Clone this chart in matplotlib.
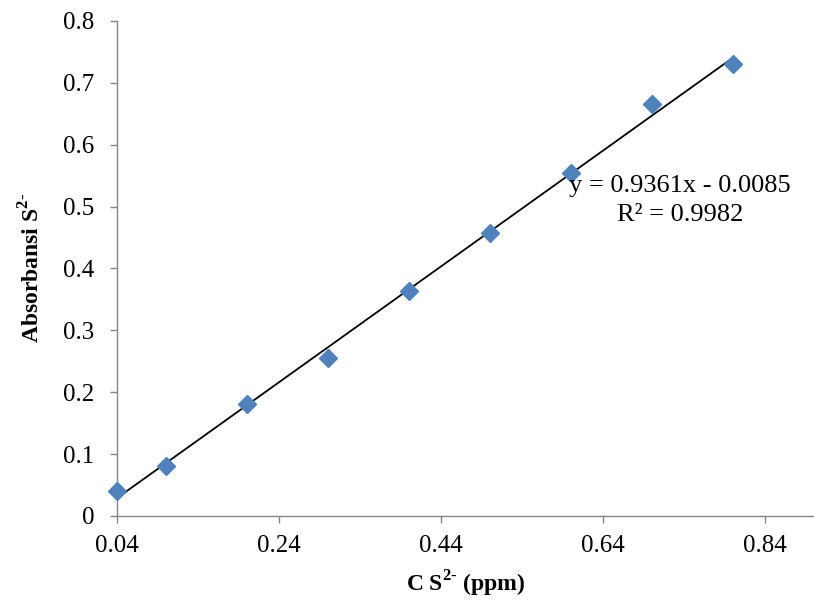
import matplotlib.pyplot as plt
import numpy as np

# data
conc = [0.04, 0.1, 0.2, 0.3, 0.4, 0.5, 0.6, 0.7, 0.8]
absorb = [0.041, 0.081, 0.181, 0.256, 0.364, 0.457, 0.554, 0.666, 0.731]
slope = 0.9361
intercept = -0.0085
eq_text = 'y = 0.9361x - 0.0085'
r2_text = 'R² = 0.9982'
x_ticks = [0.04, 0.24, 0.44, 0.64, 0.84]
y_ticks = [0, 0.1, 0.2, 0.3, 0.4, 0.5, 0.6, 0.7, 0.8]


def main():
    plt.rcParams['font.family'] = ['Liberation Serif', 'DejaVu Serif']
    plt.rcParams['mathtext.fontset'] = 'custom'
    plt.rcParams['mathtext.rm'] = 'Liberation Serif'
    plt.rcParams['mathtext.bf'] = 'Liberation Serif:bold'

    fig = plt.figure(figsize=(8.14, 6.03), dpi=100)
    ax = fig.add_axes([0.1437, 0.1443, 0.856, 0.8209])

    x_line = np.array([conc[0], conc[-1]])
    ax.plot(x_line, slope * x_line + intercept, color='black', lw=1.3, zorder=2)
    ax.plot(conc, absorb, linestyle='none', marker='D', markersize=9.5,
            color='#4F81BD', markeredgecolor='#4F81BD', zorder=3,
            clip_on=False)

    ax.set_xlim(0.04, 0.9)
    ax.set_ylim(0, 0.8)
    ax.set_xticks(x_ticks)
    ax.set_xticklabels(['0.04', '0.24', '0.44', '0.64', '0.84'])
    ax.set_yticks(y_ticks)
    ax.set_yticklabels(['0', '0.1', '0.2', '0.3', '0.4', '0.5', '0.6', '0.7', '0.8'])

    for side in ['top', 'right']:
        ax.spines[side].set_visible(False)
    for side in ['left', 'bottom']:
        ax.spines[side].set_color('#868686')
        ax.spines[side].set_linewidth(1.0)
    ax.tick_params(direction='out', length=5, width=1, color='#868686',
                   labelsize=18)
    ax.tick_params(axis='y', pad=11)
    ax.tick_params(axis='x', pad=9)

    ax.text(0.735, 0.533, eq_text, ha='center', va='center', fontsize=19)
    ax.text(0.735, 0.486, r2_text, ha='center', va='center', fontsize=19)

    sup = '$^{\\mathbf{2\u2010}}$'
    ax.set_xlabel('C S' + sup + ' (ppm)', fontsize=17, fontweight='bold',
                  labelpad=8)
    ax.set_ylabel('Absorbansi S' + sup, fontsize=17, fontweight='bold',
                  labelpad=14)

    fig.savefig('out.png', dpi=100)


if __name__ == '__main__':
    main()
